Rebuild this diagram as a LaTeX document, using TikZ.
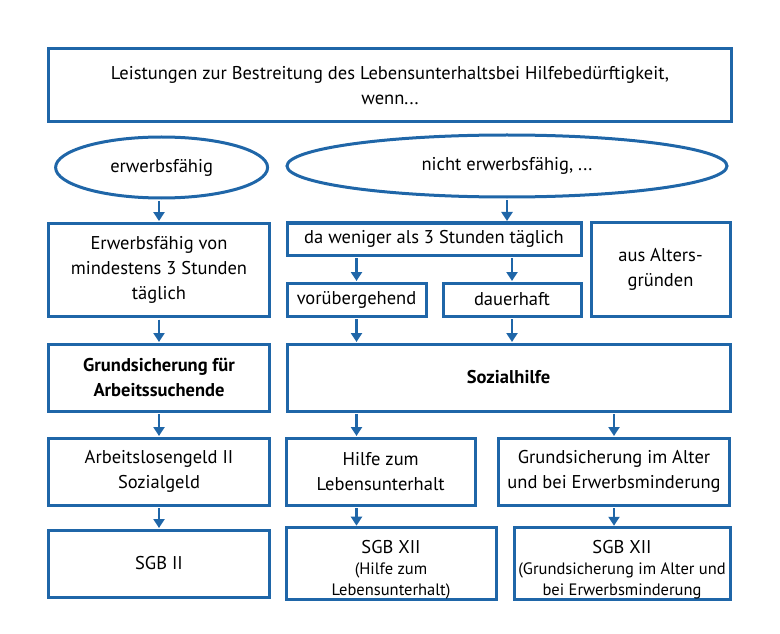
\documentclass[tikz,border=0pt]{standalone}
\usepackage{fontspec}
\setmainfont{PT Sans}
\usepackage{tikz}
\usetikzlibrary{positioning, arrows.meta, calc, shapes.geometric}
\definecolor{boxblue}{RGB}{31,102,168}
\newcommand{\smalltxt}{\fontsize{16.5bp}{18.5bp}\selectfont}
\tikzset{
  bluebox/.style  = {draw=boxblue, line width=3bp, outer sep=0pt, inner sep=2pt,
                     align=center, font=\fontsize{18.5bp}{25bp}\selectfont},
  blueoval/.style = {bluebox, ellipse, inner sep=0pt},
  fwd/.style      = {-{Triangle[length=9bp, width=11bp]}, draw=boxblue, line width=2.2bp,
                     shorten <=3bp, shorten >=2bp}
}
\begin{document}
\begin{tikzpicture}[x=1bp, y=-1bp]
    \useasboundingbox (0,0) rectangle (780,634);

    % --- Header ----------------------------------------------------------------
    \node[bluebox, minimum width=682bp, minimum height=73bp] (head) at (390, 85.5)
      {Leistungen zur Bestreitung des Lebensunterhaltsbei Hilfebedürftigkeit,\\ wenn...};

    % --- Conditions --------------------------------------------------------------
    \node[blueoval, minimum width=212bp, minimum height=61bp] (erw)   at (161.6, 167.5)
      {erwerbsfähig};
    \node[blueoval, minimum width=440bp, minimum height=62bp] (nicht) at (507, 166)
      {nicht erwerbsfähig, ...};

    % --- Second row --------------------------------------------------------------
    \node[bluebox, minimum width=220bp, minimum height=93.5bp] (erwvon) at (159, 269.8)
      {Erwerbsfähig von\\ mindestens 3 Stunden\\ täglich};
    \node[bluebox, minimum width=294bp, minimum height=32bp] (weniger) at (434, 239)
      {da weniger als 3 Stunden täglich};
    \node[bluebox, minimum width=139bp, minimum height=93bp] (alters) at (660.5, 269.5)
      {aus Alters-\\ gründen};
    \node[bluebox, minimum width=139bp, minimum height=33bp] (vorueber) at (356.5, 299.5)
      {vorübergehend};
    \node[bluebox, minimum width=138bp, minimum height=33bp] (dauer) at (512, 299.5)
      {dauerhaft};

    % --- Benefit systems ---------------------------------------------------------
    \node[bluebox, minimum width=220bp, minimum height=67bp, font=\fontsize{18.5bp}{25bp}\selectfont\bfseries] (grund) at (159, 377.5)
      {Grundsicherung für\\ Arbeitssuchende};
    \node[bluebox, minimum width=443bp, minimum height=67bp, font=\fontsize{18.5bp}{25bp}\selectfont\bfseries] (sozial) at (508.5, 377.5)
      {Sozialhilfe};

    % --- Benefits ----------------------------------------------------------------
    \node[bluebox, minimum width=220bp, minimum height=67bp] (alg) at (159, 471.5)
      {Arbeitslosengeld II\\ Sozialgeld};
    \node[bluebox, minimum width=189bp, minimum height=67bp] (hilfe) at (380.7, 471.5)
      {Hilfe zum\\ Lebensunterhalt};
    \node[bluebox, minimum width=231bp, minimum height=67bp] (grundalt) at (614, 471.5)
      {Grundsicherung im Alter\\ und bei Erwerbsminderung};

    % --- Legal basis -------------------------------------------------------------
    \node[bluebox, minimum width=220bp, minimum height=67bp] (sgbii) at (159, 563.5)
      {SGB II};
    \node[bluebox, minimum width=210bp, minimum height=67bp, inner sep=0pt] (sgbhilfe) at (391, 563.5)
      {\rule{0pt}{26bp}SGB XII\\[-4bp] \smalltxt (Hilfe zum\\[-4bp] \smalltxt Lebensunterhalt)};
    \node[bluebox, minimum width=216bp, minimum height=67bp, inner sep=0pt] (sgbalt) at (622, 563.5)
      {\rule{0pt}{26bp}SGB XII\\[-4bp] \smalltxt (Grundsicherung im Alter und\\[-4bp] \smalltxt bei Erwerbsminderung};

    % --- Arrows ------------------------------------------------------------------
    \draw[fwd] (erwvon.north |- erw.south) -- (erwvon.north);
    \draw[fwd] (nicht.south) -- (nicht.south |- weniger.north);
    \draw[fwd] (vorueber.north |- weniger.south) -- (vorueber.north);
    \draw[fwd] (dauer.north |- weniger.south) -- (dauer.north);
    \draw[fwd] (erwvon.south) -- (grund.north);
    \draw[fwd] (vorueber.south) -- (vorueber.south |- sozial.north);
    \draw[fwd] (dauer.south) -- (dauer.south |- sozial.north);
    \draw[fwd] (grund.south) -- (alg.north);
    \draw[fwd] (vorueber.south |- sozial.south) -- (vorueber.south |- hilfe.north);
    \draw[fwd] (grundalt.north |- sozial.south) -- (grundalt.north);
    \draw[fwd] (alg.south) -- (sgbii.north);
    \draw[fwd] (vorueber.south |- hilfe.south) -- (vorueber.south |- sgbhilfe.north);
    \draw[fwd] (grundalt.south) -- (grundalt.south |- sgbalt.north);

  \end{tikzpicture}
\end{document}
